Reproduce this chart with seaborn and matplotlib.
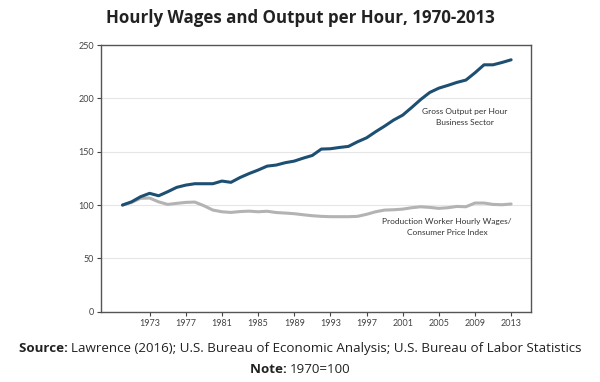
"""
Hourly Wages and Output per Hour, 1970-2013
"""

import matplotlib
matplotlib.use("Agg")
import matplotlib.pyplot as plt
import pandas as pd
import seaborn as sns

# ── Data (1970 = 100)
years = list(range(1970, 2014))
output_per_hour = [100, 103, 107.8, 111, 108.7, 112.5, 116.6, 118.7, 120, 120,
                   120, 122.5, 121.3, 125.8, 129.5, 132.8, 136.5, 137.5, 139.7, 141.2,
                   144, 146.5, 152.5, 152.8, 154, 155, 159.3, 163, 168.7, 174,
                   179.7, 184.3, 191.5, 199, 205.6, 209.6, 212.2, 215, 217.2, 224,
                   231.5, 231.5, 233.7, 236.2]
wages_cpi = [100, 102.5, 106.3, 106.6, 103, 100.6, 101.6, 102.5, 102.8, 99.4,
             95.3, 93.7, 93.1, 93.9, 94.3, 93.7, 94.2, 93, 92.5, 91.9,
             90.9, 90, 89.4, 89.1, 89.1, 89.1, 89.4, 91.3, 93.7, 95.3,
             95.6, 96.2, 97.5, 98.4, 97.8, 96.9, 97.5, 98.7, 98.4, 101.9,
             101.9, 100.6, 100.3, 101]
xticks = [1973, 1977, 1981, 1985, 1989, 1993, 1997, 2001, 2005, 2009, 2013]
yticks = [0, 50, 100, 150, 200, 250]

BLUE = "#1d4f72"
GREY = "#b3b3b3"
SPINE = "#555555"

sns.set_theme(style="white")
plt.rcParams["font.family"] = ["Lato", "DejaVu Sans"]

df = pd.DataFrame({"year": years, "output": output_per_hour, "wages": wages_cpi})

fig = plt.figure(figsize=(6, 3.82), dpi=100)
ax = fig.add_axes([0.168, 0.184, 0.717, 0.698])

sns.lineplot(data=df, x="year", y="wages", color=GREY, lw=2.2, ax=ax)
sns.lineplot(data=df, x="year", y="output", color=BLUE, lw=2.2, ax=ax)

ax.set_xlim(1967.6, 2015.2)
ax.set_ylim(0, 250)
ax.set_xticks(xticks)
ax.set_yticks(yticks)
ax.set_xlabel(""); ax.set_ylabel("")
ax.grid(axis="y", color="#e6e6e6", lw=0.8)
ax.set_axisbelow(True)
for s in ax.spines.values():
    s.set_color(SPINE); s.set_linewidth(1.0)
ax.tick_params(axis="both", labelsize=6.5, colors="#444444", length=3, width=0.8,
               direction="out", left=True, bottom=True, pad=2)

ax.text(2007.9, 182.5, "Gross Output per Hour\nBusiness Sector", ha="center", va="center",
        fontsize=6, color="#333333", linespacing=1.6)
ax.text(2005.9, 79.7, "Production Worker Hourly Wages/\nConsumer Price Index", ha="center",
        va="center", fontsize=6, color="#333333", linespacing=1.6)

fig.text(0.5, 0.953, "Hourly Wages and Output per Hour, 1970-2013", ha="center", va="center",
         fontsize=12.2, fontweight="bold", color="#222222", family=["Open Sans", "DejaVu Sans"])

# footer lines: bold label + regular text, centred together
def footer(y, label, rest):
    fam = ["Open Sans", "DejaVu Sans"]
    t1 = fig.text(0, y, label, fontsize=9.6, fontweight="bold", color="#222222", va="center", family=fam)
    t2 = fig.text(0, y, rest, fontsize=9.6, color="#222222", va="center", family=fam)
    fig.canvas.draw()
    r = fig.canvas.get_renderer()
    w1 = t1.get_window_extent(r).width / fig.bbox.width
    w2 = t2.get_window_extent(r).width / fig.bbox.width
    x0 = 0.5 - (w1 + w2) / 2
    t1.set_x(x0)
    t2.set_x(x0 + w1)

footer(0.087, "Source: ", "Lawrence (2016); U.S. Bureau of Economic Analysis; U.S. Bureau of Labor Statistics")
footer(0.032, "Note: ", "1970=100")

fig.savefig("out.png", dpi=100, facecolor="white")
